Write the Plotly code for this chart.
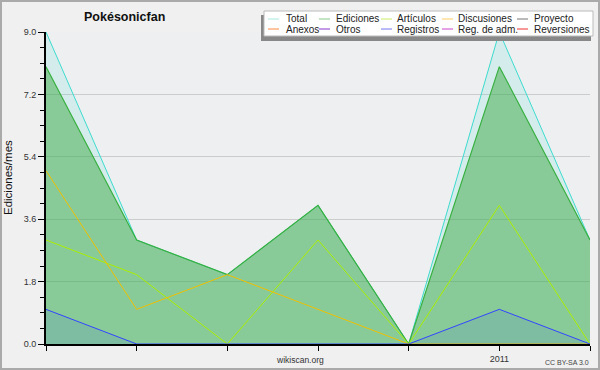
import plotly.graph_objects as go

months = ["2010-08", "2010-09", "2010-10", "2010-11", "2010-12", "2011-01", "2011-02"]
total = [9, 3, 2, 4, 0, 9, 3]
ediciones = [8, 3, 2, 4, 0, 8, 3]
articulos = [3, 2, 0, 3, 0, 4, 0]
discusiones = [5, 1, 2, 1, 0, 0, 0]
registros = [1, 0, 0, 0, 0, 1, 0]

x_tickvals = ["2011-01"]
x_ticktext = ["2011"]
y_tickvals = [0, 1.8, 3.6, 5.4, 7.2, 9.0]
y_ticktext = ["0.0", "1.8", "3.6", "5.4", "7.2", "9.0"]

legend_names = ["Total", "Ediciones", "Artículos", "Discusiones", "Proyecto",
                "Anexos", "Otros", "Registros", "Reg. de adm.", "Reversiones"]
legend_colors = ["#a8e8e0", "#88cc88", "#ccee66", "#ffcc66", "#777777",
                 "#ff8844", "#8833cc", "#7777ee", "#cc44cc", "#ee3333"]

W, H = 600, 370
L, R, T, B = 46, 10, 32, 26
PW, PH = W - L - R, H - T - B
FONT = "Liberation Sans"


def px(x):
    return (x - L) / PW


def py(y):
    return (H - B - y) / PH


fig = go.Figure()

fig.add_trace(go.Scatter(x=months, y=total, mode="lines", fill="tozeroy",
                         line=dict(color="#3ddccf", width=1),
                         fillcolor="rgba(64,224,208,0.15)", showlegend=False))
fig.add_trace(go.Scatter(x=months, y=ediciones, mode="lines", fill="tozeroy",
                         line=dict(color="#38b040", width=1.2),
                         fillcolor="rgba(60,170,70,0.5)", showlegend=False))
fig.add_trace(go.Scatter(x=months, y=articulos, mode="lines",
                         line=dict(color="#aaee00", width=1), showlegend=False))
fig.add_trace(go.Scatter(x=months, y=discusiones, mode="lines",
                         line=dict(color="#f0c000", width=1), showlegend=False))
fig.add_trace(go.Scatter(x=months, y=registros, mode="lines", fill="tozeroy",
                         line=dict(color="#3344ff", width=1),
                         fillcolor="rgba(50,70,255,0.1)", showlegend=False))

shapes = [
    dict(type="rect", xref="paper", yref="paper",
         x0=px(1), x1=px(W - 1), y0=py(H - 1), y1=py(1),
         line=dict(color="#aaaaaa", width=2), fillcolor="rgba(0,0,0,0)", layer="below"),
    # legend shadow
    dict(type="rect", xref="paper", yref="paper",
         x0=px(261), x1=px(591), y0=py(41), y1=py(15),
         line=dict(width=0), fillcolor="#888888", layer="above"),
    # legend box
    dict(type="rect", xref="paper", yref="paper",
         x0=px(264), x1=px(593), y0=py(36), y1=py(11),
         line=dict(color="#bbbbbb", width=1), fillcolor="white", layer="above"),
]
annotations = []

col_swatch = [268, 319, 381, 442, 517]
col_text = [285, 335, 396, 457, 533]
row_y = [19, 29]
for i, (name, color) in enumerate(zip(legend_names, legend_colors)):
    r, c = divmod(i, 5)
    y = row_y[r]
    shapes.append(dict(type="line", xref="paper", yref="paper",
                       x0=px(col_swatch[c]), x1=px(col_swatch[c] + 11),
                       y0=py(y), y1=py(y), line=dict(color=color, width=1), layer="above"))
    annotations.append(dict(text=name, xref="paper", yref="paper",
                            x=px(col_text[c]), y=py(y), xanchor="left", yanchor="middle",
                            showarrow=False, font=dict(size=10, color="#222"),
                            xshift=-1))

annotations += [
    dict(text="<b>Pokésonicfan</b>", xref="paper", yref="paper",
         x=px(124), y=py(17), xanchor="center", yanchor="middle",
         showarrow=False, font=dict(size=12.5, color="#111")),
    dict(text="Ediciones/mes", xref="paper", yref="paper", textangle=-90,
         x=px(8), y=py(178), xanchor="center", yanchor="middle",
         showarrow=False, font=dict(size=11.5, color="#111")),
    dict(text="wikiscan.org", xref="paper", yref="paper",
         x=px(300), y=py(360), xanchor="center", yanchor="middle",
         showarrow=False, font=dict(size=8.5, color="#333")),
    dict(text="CC BY-SA 3.0", xref="paper", yref="paper",
         x=px(591), y=py(362), xanchor="right", yanchor="middle",
         showarrow=False, font=dict(size=7, color="#444")),
]

fig.update_layout(
    width=W, height=H,
    margin=dict(l=L, r=R, t=T, b=B),
    paper_bgcolor="#f0f0f0",
    plot_bgcolor="#eeeff0",
    font=dict(family=FONT, size=10, color="#222"),
    showlegend=False,
    xaxis=dict(type="category", range=[0, 6], showgrid=False, automargin=False,
               tickmode="array", tickvals=months,
               ticktext=["" if m not in x_tickvals else x_ticktext[x_tickvals.index(m)] for m in months],
               ticks="outside", ticklen=5, tickcolor="black",
               showline=True, linecolor="black", linewidth=2,
               tickfont=dict(size=9, color="#333"),
               zeroline=False),
    yaxis=dict(range=[0, 9], tickmode="array", tickvals=y_tickvals, ticktext=y_ticktext,
               automargin=False,
               ticks="outside", ticklen=6, tickcolor="black",
               showline=True, linecolor="black", linewidth=2,
               gridcolor="#cccccc", gridwidth=1,
               minor=dict(dtick=0.45, tick0=0, ticks="outside", ticklen=4,
                          tickcolor="black", showgrid=False),
               tickfont=dict(size=9, color="#333"),
               zeroline=False),
    shapes=shapes,
    annotations=annotations,
)

fig.write_html("out.html", config={"displayModeBar": False},
               post_script="document.body.style.margin='0';document.body.style.overflow='hidden';")
